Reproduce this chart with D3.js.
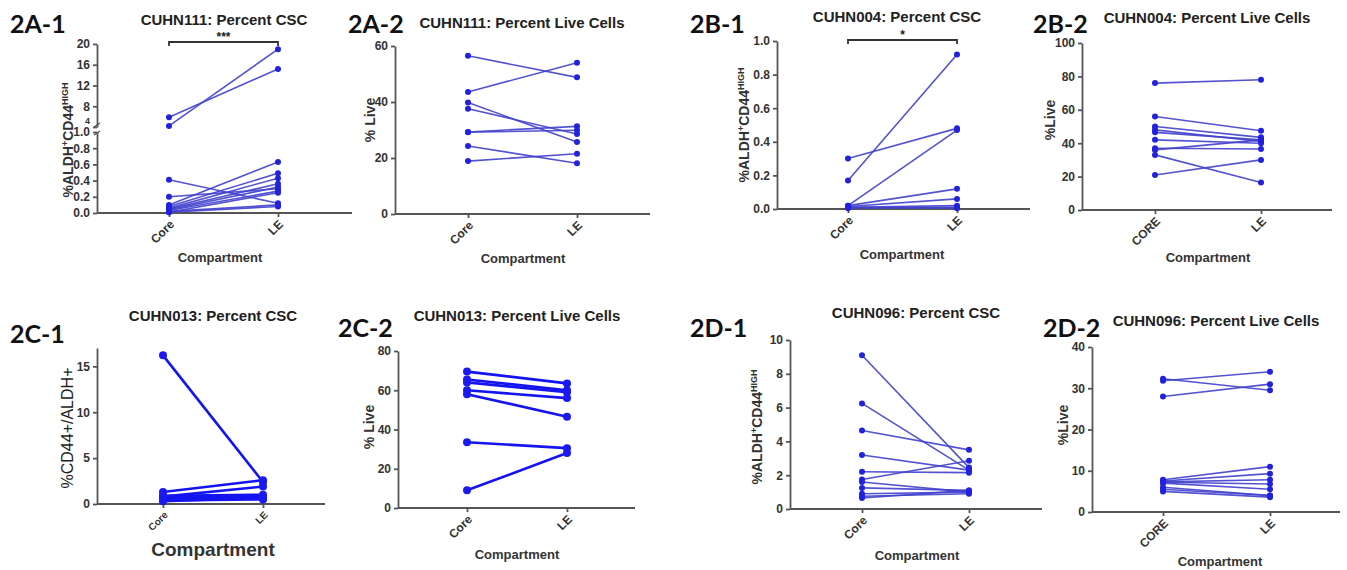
<!DOCTYPE html>
<html lang="en">
<head>
<meta charset="UTF-8" />
<title>Figure 2: CSC and live cells, core vs LE</title>
<style>
  body { margin: 0; background: #fff; }
  text { font-family: "Liberation Sans", Arial, sans-serif; fill: #222; }
  .panel-label { font-family: Lato, "Open Sans", sans-serif; font-weight: bold; font-size: 25px; fill: #111; }
  .title { font-weight: bold; font-size: 15px; }
  .axis path, .axis line { stroke: #555; stroke-width: 1.8px; }
  .axis text { font-family: "Liberation Sans", Arial, sans-serif; font-weight: bold; font-size: 12px; fill: #333; }
  .xlab { font-weight: bold; font-size: 13px; fill: #333; }
  .ylab { font-weight: bold; font-size: 14px; fill: #333; }
  .pair { fill: none; }
</style>
</head>
<body>
<script src="https://cdn.jsdelivr.net/npm/d3@7"></script>
<script>
// ---- data ----
var groups = ["Core", "LE"];
var groupsCaps = ["CORE", "LE"];

var a1Core = [5.9, 4.2, 0.41, 0.20, 0.10, 0.08, 0.06, 0.05, 0.04, 0.03, 0.02, 0.01, 0.01];
var a1LE   = [15.2, 19.0, 0.12, 0.30, 0.63, 0.49, 0.43, 0.36, 0.32, 0.27, 0.10, 0.08, 0.25];
var a1TicksLow  = [0, 0.2, 0.4, 0.6, 0.8, 1.0];
var a1TicksHigh = [4, 8, 12, 16, 20];

var a2Core = [56.5, 43.6, 39.8, 37.6, 29.3, 29.2, 24.3, 18.9];
var a2LE   = [48.8, 54.0, 25.7, 28.6, 31.3, 29.9, 18.1, 21.5];
var a2Ticks = [0, 20, 40, 60];

var b1Core = [0.30, 0.17, 0.02, 0.02, 0.015, 0.01, 0.01, 0.005];
var b1LE   = [0.48, 0.92, 0.47, 0.12, 0.06, 0.02, 0.005, 0.01];
var b1Ticks = [0, 0.2, 0.4, 0.6, 0.8, 1.0];

var b2Core = [76, 56, 50, 48, 46.5, 42, 37, 36, 33, 21];
var b2LE   = [78, 47.5, 43.5, 41, 42, 40, 36.5, 42, 16.5, 30];
var b2Ticks = [0, 20, 40, 60, 80, 100];

var c1Core = [16.2, 1.3, 0.9, 0.8, 0.7, 0.5, 0.4, 0.3];
var c1LE   = [2.4, 2.6, 1.0, 1.9, 0.8, 0.6, 0.5, 0.7];
var c1Ticks = [0, 5, 10, 15];

var c2Core = [69.5, 65.5, 64, 60, 58, 33.5, 9];
var c2LE   = [63.5, 60, 59, 56, 46.5, 30.5, 28];
var c2Ticks = [0, 20, 40, 60, 80];

var d1Core = [9.1, 6.25, 4.65, 3.2, 2.2, 1.75, 1.6, 1.25, 0.9, 0.75, 0.65];
var d1LE   = [2.45, 2.3, 3.5, 2.3, 2.15, 2.85, 1.0, 1.1, 1.0, 0.9, 1.1];
var d1Ticks = [0, 2, 4, 6, 8, 10];

var d2Core = [32.3, 31.8, 28, 7.8, 7.5, 7.3, 7.2, 7.0, 6.0, 5.5, 5.0];
var d2LE   = [29.5, 34, 31, 11, 9.3, 7.8, 6.8, 5.5, 4.0, 4.0, 3.6];
var d2Ticks = [0, 10, 20, 30, 40];

var W = 1347, H = 570;
var svg = d3.select("body").append("svg").attr("width", W).attr("height", H);

function pairs(core, le) {
  return core.map(function(v, i) { return [v, le[i]]; });
}

// y label with superscripts: %ALDH+CD44HIGH
function cscLabel(t) {
  t.append("tspan").text("%ALDH");
  t.append("tspan").attr("dy", -5).style("font-size", "9px").text("+");
  t.append("tspan").attr("dy", 5).text("CD44");
  t.append("tspan").attr("dy", -5).style("font-size", "9px").text("HIGH");
}

function drawPanel(p) {
  var g = svg.append("g");

  g.append("text").attr("class", "panel-label")
    .attr("x", p.label[0]).attr("y", p.label[1]).text(p.name);

  g.append("text").attr("class", "title")
    .attr("x", p.title[0]).attr("y", p.title[1])
    .attr("text-anchor", "middle").text(p.titleText);

  var x = d3.scalePoint().domain(p.groups).range([p.coreX, p.leX]);

  // y scale (optionally broken)
  var yFn;
  if (p.broken) {
    var yLow = d3.scaleLinear().domain([0, 1]).range([p.yBottom, p.breakLow]);
    var yHigh = d3.scaleLinear().domain([4, 20]).range([p.breakHigh, p.yTop]);
    yFn = function(v) { return v <= 1 ? yLow(v) : yHigh(v); };

    g.append("g").attr("class", "axis")
      .attr("transform", "translate(" + p.yAxisX + ",0)")
      .call(d3.axisLeft(yLow).tickValues(a1TicksLow).tickFormat(d3.format(".1f")).tickSize(4).tickSizeOuter(0));
    var hi = g.append("g").attr("class", "axis")
      .attr("transform", "translate(" + p.yAxisX + ",0)")
      .call(d3.axisLeft(yHigh).tickValues(a1TicksHigh).tickSize(4).tickSizeOuter(0));
    // the "4" peeks out just above "1.0"
    hi.selectAll(".tick text").filter(function(d) { return d === 4; })
      .attr("dy", "-0.35em").style("font-size", "9px");
    // break marks
    [p.breakLow + 1, p.breakHigh + 1].forEach(function(yy, i) {
      g.append("line")
        .attr("x1", p.yAxisX - 3).attr("x2", p.yAxisX + 3)
        .attr("y1", yy + 2 - i * 3).attr("y2", yy - 2 - i * 3)
        .attr("stroke", "#555").attr("stroke-width", 1.3);
    });
  } else {
    var y = d3.scaleLinear().domain(p.domain).range([p.yBottom, p.yTop]);
    yFn = y;
    g.append("g").attr("class", "axis")
      .attr("transform", "translate(" + p.yAxisX + ",0)")
      .call(d3.axisLeft(y).tickValues(p.ticks).tickFormat(p.fmt || d3.format("d")).tickSize(4).tickSizeOuter(0));
  }

  // x axis line
  var xAxis = d3.axisBottom(x).tickSize(4).tickSizeOuter(0).tickFormat("");
  var xa = g.append("g").attr("class", "axis")
    .attr("transform", "translate(0," + p.yBottom + ")")
    .call(xAxis);
  xa.select(".domain").attr("d", "M" + p.yAxisX + ",0H" + p.xEnd);

  // rotated tick labels
  g.selectAll(".xtick").data(p.groups).enter().append("text")
    .attr("class", "xtick")
    .attr("transform", function(d) {
      return "translate(" + (x(d) + 3) + "," + (p.yBottom + 9) + ") rotate(-45)";
    })
    .attr("text-anchor", "end")
    .attr("dy", "0.35em")
    .style("font-weight", "bold")
    .style("font-size", (p.xTickSize || 12) + "px")
    .style("fill", "#333")
    .text(function(d) { return d; });

  g.append("text").attr("class", "xlab")
    .attr("x", p.xlab[0]).attr("y", p.xlab[1])
    .attr("text-anchor", "middle")
    .style("font-size", (p.xlabSize || 13) + "px")
    .text("Compartment");

  var yl = g.append("text").attr("class", "ylab")
    .attr("text-anchor", "middle")
    .attr("transform", "translate(" + p.ylab[0] + "," + p.ylab[1] + ") rotate(-90)");
  if (p.ylabSize) yl.style("font-size", p.ylabSize + "px").style("font-weight", p.ylabWeight || "bold").style("fill", "#222");
  if (p.ylabText === "csc") cscLabel(yl); else yl.text(p.ylabText);

  // paired lines and points
  var data = pairs(p.core, p.le);
  var line = d3.line()
    .x(function(d, i) { return x(p.groups[i]); })
    .y(function(d) { return yFn(d); });

  g.selectAll(".pair").data(data).enter().append("path")
    .attr("class", "pair")
    .attr("d", function(d) { return line(d); })
    .attr("stroke", p.lineColor)
    .attr("stroke-width", p.lineW)
    .attr("stroke-opacity", p.lineOpacity || 1);

  data.forEach(function(d) {
    d.forEach(function(v, i) {
      g.append("circle")
        .attr("cx", x(p.groups[i])).attr("cy", yFn(v))
        .attr("r", p.r).attr("fill", p.dotColor);
    });
  });

  // significance bracket
  if (p.sig) {
    var by = p.sig.y;
    g.append("path")
      .attr("d", "M" + x(p.groups[0]) + "," + (by + 4) + "V" + by + "H" + x(p.groups[1]) + "V" + (by + 4))
      .attr("fill", "none").attr("stroke", "#333").attr("stroke-width", 1.8);
    g.append("text")
      .attr("x", (x(p.groups[0]) + x(p.groups[1])) / 2).attr("y", by - 1)
      .attr("text-anchor", "middle")
      .style("font-weight", "bold").style("font-size", "12px")
      .text(p.sig.text);
  }
}

var thin = { lineColor: "#4040cc", lineW: 1.6, lineOpacity: 0.9, dotColor: "#2222dd", r: 3 };
var thick = { lineColor: "#1414f0", lineW: 2.6, lineOpacity: 1, dotColor: "#1a1af0", r: 4 };

function withStyle(p, s) { return Object.assign({}, s, p); }

var panels = [
  withStyle({ name: "2A-1", label: [10, 33], titleText: "CUHN111: Percent CSC", title: [224, 25],
    groups: groups, core: a1Core, le: a1LE, broken: true,
    yAxisX: 97, yBottom: 213, yTop: 44, breakLow: 132, breakHigh: 127, xEnd: 352,
    coreX: 169, leX: 278, ylabText: "csc", ylab: [73, 140], xlab: [220, 262],
    sig: { y: 42, text: "***" } }, thin),
  withStyle({ name: "2A-2", label: [348, 33], titleText: "CUHN111: Percent Live Cells", title: [522, 28],
    groups: groups, core: a2Core, le: a2LE, domain: [0, 60], ticks: a2Ticks,
    yAxisX: 395, yBottom: 214, yTop: 46, xEnd: 650,
    coreX: 468, leX: 577, ylabText: "% Live", ylab: [375, 120], xlab: [523, 263] }, thin),
  withStyle({ name: "2B-1", label: [690, 33], titleText: "CUHN004: Percent CSC", title: [897, 22],
    groups: groups, core: b1Core, le: b1LE, domain: [0, 1], ticks: b1Ticks, fmt: d3.format(".1f"),
    yAxisX: 777, yBottom: 209, yTop: 41, xEnd: 1030,
    coreX: 848, leX: 957, ylabText: "csc", ylab: [749, 125], xlab: [902, 259],
    sig: { y: 40, text: "*" } }, thin),
  withStyle({ name: "2B-2", label: [1033, 33], titleText: "CUHN004: Percent Live Cells", title: [1207, 23],
    groups: groupsCaps, core: b2Core, le: b2LE, domain: [0, 100], ticks: b2Ticks,
    yAxisX: 1082, yBottom: 210, yTop: 43, xEnd: 1332,
    coreX: 1155, leX: 1261, ylabText: "%Live", ylab: [1055, 120], xlab: [1208, 262] }, thin),
  withStyle({ name: "2C-1", label: [10, 343], titleText: "CUHN013: Percent CSC", title: [213, 321],
    groups: groups, core: c1Core, le: c1LE, domain: [0, 17], ticks: c1Ticks,
    yAxisX: 97, yBottom: 504, yTop: 348, xEnd: 325,
    coreX: 163, leX: 263, ylabText: "%CD44+/ALDH+", ylabSize: 16, ylabWeight: "normal",
    ylab: [73, 428], xlab: [213, 556], xlabSize: 19, xTickSize: 10 }, thick),
  withStyle({ name: "2C-2", label: [338, 337], titleText: "CUHN013: Percent Live Cells", title: [517, 321],
    groups: groups, core: c2Core, le: c2LE, domain: [0, 80], ticks: c2Ticks,
    yAxisX: 398, yBottom: 508, yTop: 351, xEnd: 635,
    coreX: 467, leX: 567, ylabText: "% Live", ylab: [374, 427], xlab: [517, 559] }, thick),
  withStyle({ name: "2D-1", label: [690, 337], titleText: "CUHN096: Percent CSC", title: [916, 318],
    groups: groups, core: d1Core, le: d1LE, domain: [0, 10], ticks: d1Ticks,
    yAxisX: 790, yBottom: 509, yTop: 340, xEnd: 1042,
    coreX: 862, leX: 969, ylabText: "csc", ylab: [762, 427], xlab: [917, 560] }, thin),
  withStyle({ name: "2D-2", label: [1043, 337], titleText: "CUHN096: Percent Live Cells", title: [1216, 326],
    groups: groupsCaps, core: d2Core, le: d2LE, domain: [0, 40], ticks: d2Ticks,
    yAxisX: 1092, yBottom: 512, yTop: 347, xEnd: 1340,
    coreX: 1163, leX: 1270, ylabText: "%Live", ylab: [1068, 425], xlab: [1220, 566] }, thin)
];

panels.forEach(drawPanel);
</script>
</body>
</html>
